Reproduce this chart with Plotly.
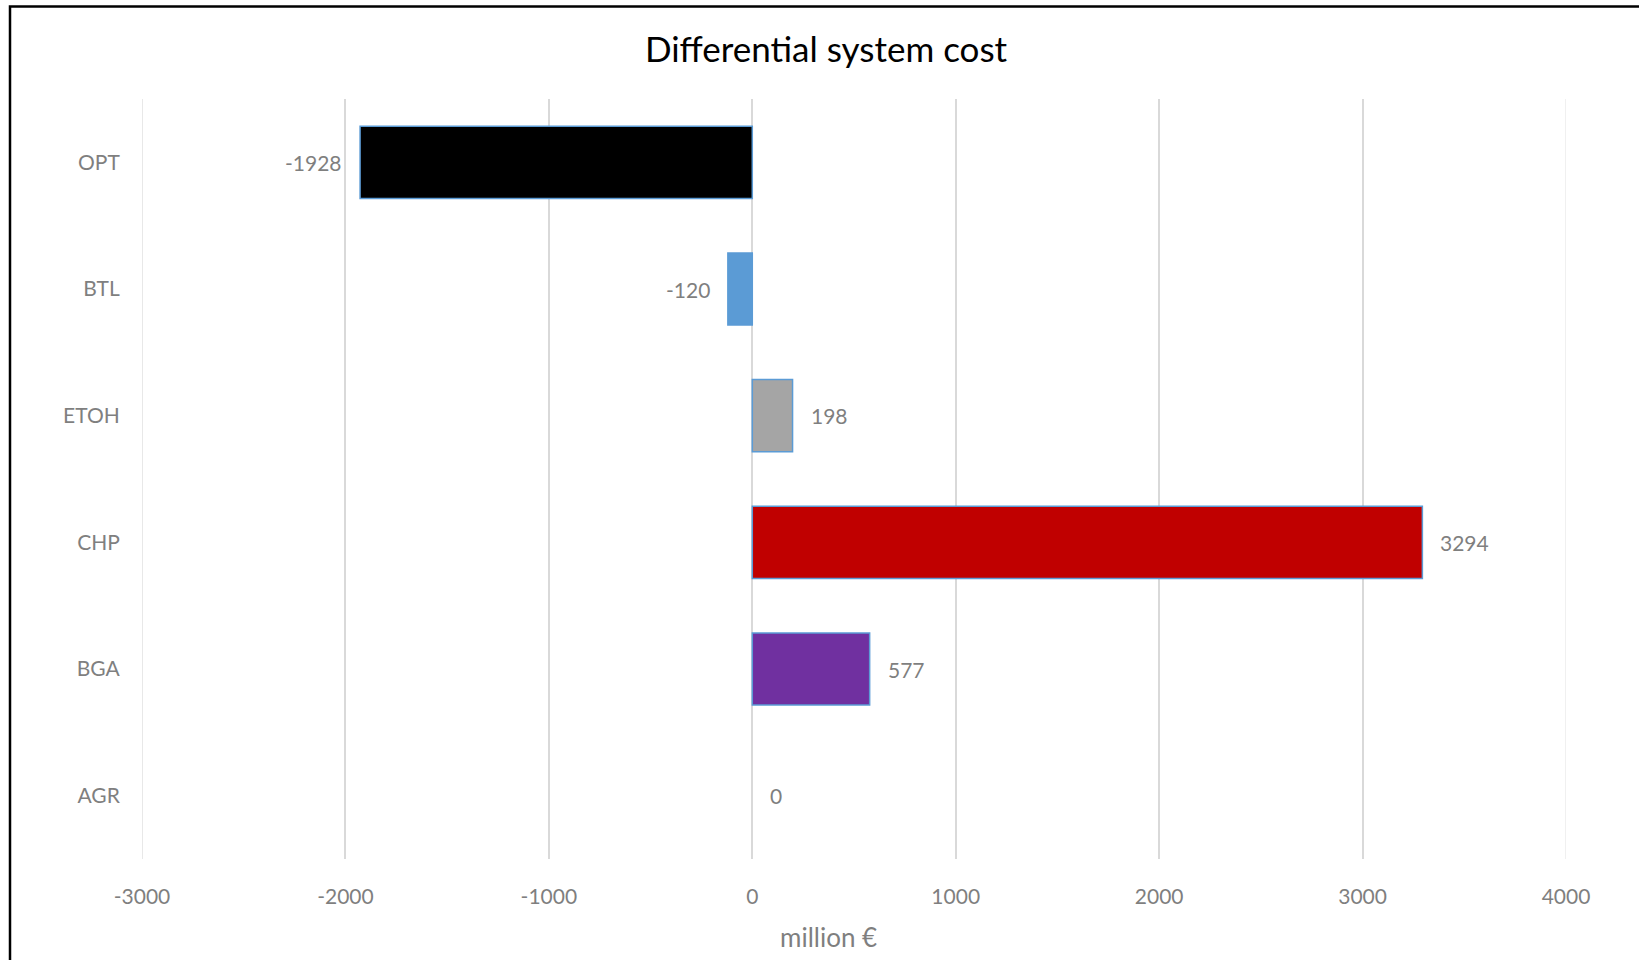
import plotly.graph_objects as go

categories = ["OPT", "BTL", "ETOH", "CHP", "BGA", "AGR"]
values = [-1928, -120, 198, 3294, 577, 0]
colors = ["#000000", "#5B9BD5", "#A5A5A5", "#C00000", "#7030A0", "#5B9BD5"]
x_ticks = [-3000, -2000, -1000, 0, 1000, 2000, 3000, 4000]
x_ticktext = [str(v) for v in x_ticks]

W, H = 1639, 960
ML, MR, MT, MB = 142, 73, 99, 101
FONT = "Lato"
GRAY = "#7F7F7F"

fig = go.Figure()
fig.add_trace(go.Bar(
    y=categories, x=values, orientation="h",
    marker=dict(color=colors,
                line=dict(color="#5B9BD5",
                          width=[1.5 if v != 0 else 0 for v in values])),
    width=0.57, hoverinfo="skip", showlegend=False,
))

for c, v in zip(categories, values):
    fig.add_annotation(
        x=v, y=c, xref="x", yref="y", text=str(v), showarrow=False,
        xanchor="right" if v < 0 else "left",
        xshift=-16 if v < 0 else 16,
        font=dict(family=FONT, size=21, color=GRAY),
    )

# lighter gridlines at the axis range edges
for xv, col in ((x_ticks[0], "#E8E8E8"), (x_ticks[-1], "#F0F0F0")):
    fig.add_shape(type="line", xref="x", yref="paper", x0=xv, x1=xv,
                  y0=0, y1=1, line=dict(color=col, width=2), layer="below")

pw = W - ML - MR
ph = H - MT - MB
fig.add_shape(
    type="rect", xref="paper", yref="paper",
    x0=(10 - ML) / pw, x1=(W + 20 - ML) / pw,
    y0=-(H + 20 - MT - ph) / ph, y1=1 + (MT - 6.5) / ph,
    line=dict(color="black", width=2.5), layer="below",
)

# axis title
fig.add_annotation(
    text="million €", xref="paper", yref="paper",
    x=(828 - ML) / pw, y=0, yshift=-78, xanchor="center", yanchor="middle",
    showarrow=False, font=dict(family=FONT, size=26, color=GRAY),
)

fig.update_layout(
    width=W, height=H,
    margin=dict(l=ML, r=MR, t=MT, b=MB),
    paper_bgcolor="white", plot_bgcolor="white",
    font=dict(family=FONT, color=GRAY),
    title=dict(text="Differential system cost", x=826 / W, xanchor="center",
               y=1 - 50 / H, yanchor="middle", yref="container",
               font=dict(family=FONT, size=35, color="black")),
    xaxis=dict(range=[x_ticks[0], x_ticks[-1]], tickvals=x_ticks,
               ticktext=x_ticktext, showgrid=True,
               gridcolor="#D9D9D9", gridwidth=1.5, zeroline=True,
               zerolinecolor="#D9D9D9", zerolinewidth=1.5,
               showline=False, ticks="outside", ticklen=19,
               tickcolor="rgba(0,0,0,0)",
               tickfont=dict(family=FONT, size=21, color=GRAY)),
    yaxis=dict(categoryorder="array", categoryarray=categories,
               autorange="reversed", showgrid=False, showline=False,
               ticks="outside", ticklen=17, tickcolor="rgba(0,0,0,0)",
               tickfont=dict(family=FONT, size=21, color=GRAY)),
    bargap=0.43,
)

fig.write_html("out.html")
